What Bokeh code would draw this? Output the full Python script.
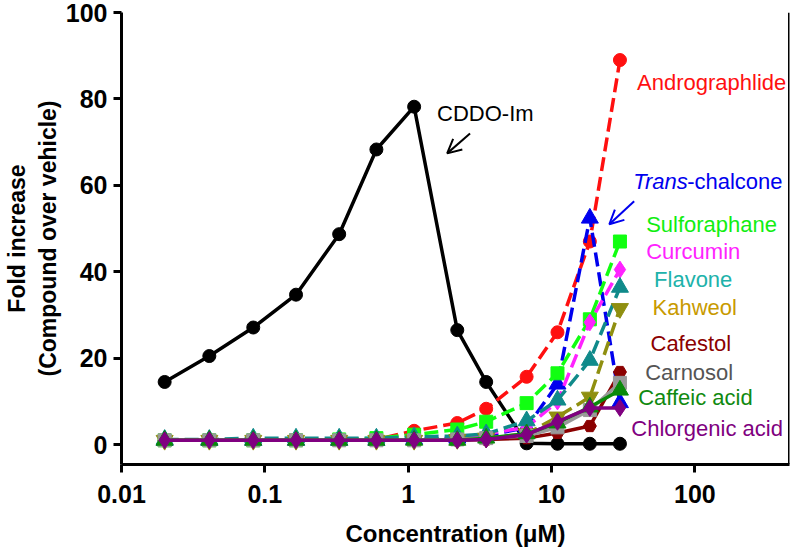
from bokeh.plotting import figure
from bokeh.models import FixedTicker, Label, Arrow, OpenHead, Span, Range1d
from bokeh.embed import file_html
from bokeh.resources import INLINE

# ---- data ----
conc = [0.02, 0.041, 0.083, 0.165, 0.33, 0.6, 1.1, 2.2, 3.5, 6.7, 11, 18.5, 30]
cddo_im = [14.5, 20.5, 27.1, 34.7, 48.7, 68.3, 78.2, 26.5, 14.5, 0.3, 0.2, 0.2, 0.2]
andrographolide = [1.0, 1.0, 1.0, 1.0, 1.0, 1.2, 3.2, 5.0, 8.3, 15.7, 26.0, 47.0, 89.0]
trans_chalcone = [1.0, 1.0, 1.0, 1.0, 1.0, 1.0, 1.2, 1.5, 2.0, 4.0, 14.0, 52.4, 9.7]
sulforaphane = [1.0, 1.0, 1.0, 1.0, 1.2, 1.5, 2.3, 3.5, 5.3, 9.6, 16.5, 29.0, 47.0]
curcumin = [1.0, 1.0, 1.0, 1.0, 1.0, 1.0, 1.2, 1.5, 2.5, 4.0, 10.0, 28.3, 40.5]
flavone = [1.2, 1.2, 1.5, 1.5, 1.5, 1.5, 1.8, 2.0, 2.5, 5.5, 10.3, 19.5, 36.4]
kahweol = [1.0, 1.0, 1.0, 1.0, 1.0, 1.0, 1.0, 1.2, 1.5, 2.5, 6.4, 11.0, 31.5]
cafestol = [1.0, 1.0, 1.0, 1.0, 1.0, 1.0, 1.0, 1.0, 1.2, 1.5, 2.7, 4.3, 16.8]
carnosol = [1.0, 1.0, 1.0, 1.0, 1.0, 1.0, 1.0, 1.2, 1.5, 2.0, 4.0, 8.0, 14.3]
caffeic_acid = [1.0, 1.0, 1.0, 1.0, 1.0, 1.0, 1.0, 1.0, 1.5, 2.5, 5.0, 8.7, 12.6]
chlorgenic_acid = [1.0, 1.0, 1.0, 1.0, 1.0, 1.0, 1.0, 1.0, 1.2, 2.3, 5.3, 8.5, 8.5]

x_ticks = [0.01, 0.1, 1, 10, 100]
x_tick_labels = ["0.01", "0.1", "1", "10", "100"]
y_ticks = [0, 20, 40, 60, 80, 100]

FONT = "Liberation Sans"
X_END = 457

p = figure(width=792, height=549, x_axis_type="log",
           x_range=Range1d(0.01, X_END), y_range=Range1d(-4.6, 100),
           output_backend="svg", toolbar_location=None,
           min_border_left=118, min_border_right=3, min_border_top=12,
           min_border_bottom=84)
p.grid.visible = False
p.outline_line_color = None
p.background_fill_color = "white"
p.border_fill_color = "white"

for ax in (p.xaxis[0], p.yaxis[0]):
    ax.axis_line_width = 3
    ax.axis_line_color = "black"
    ax.major_tick_line_width = 3
    ax.major_tick_out = 8
    ax.major_tick_in = 0
    ax.minor_tick_line_color = None
    ax.major_label_text_font = FONT
    ax.major_label_text_font_style = "bold"
    ax.major_label_text_font_size = "25px"
    ax.major_label_text_color = "black"
    ax.axis_label_text_font = FONT
    ax.axis_label_text_font_style = "bold"
    ax.axis_label_text_color = "black"

p.xaxis.ticker = FixedTicker(ticks=x_ticks)
p.xaxis.major_label_overrides = {t: l for t, l in zip(x_ticks, x_tick_labels)}
p.xaxis.axis_label = "Concentration (\u03bcM)"
p.xaxis.axis_label_text_font_size = "24px"
p.xaxis.axis_label_standoff = 14
p.xaxis.major_label_standoff = 12
p.yaxis.ticker = FixedTicker(ticks=y_ticks)
p.yaxis.axis_label = "Fold increase\n(Compound over vehicle)"
p.yaxis.axis_label_text_font_size = "23px"
p.yaxis.axis_label_standoff = 2
p.yaxis.major_label_standoff = 6

p.add_layout(Span(location=X_END, dimension="height", line_color="black", line_width=3))

series = [
    ("CDDO-Im", cddo_im, "black", "solid", "circle"),
    ("Andrographlide", andrographolide, "#FF1010", "dashed", "circle"),
    ("Trans-chalcone", trans_chalcone, "#0000EE", "dashed", "triangle"),
    ("Sulforaphane", sulforaphane, "#11FF11", "dashed", "square"),
    ("Curcumin", curcumin, "#FF22FF", "dashed", "diamond"),
    ("Flavone", flavone, "#108A8A", "dashed", "triangle"),
    ("Kahweol", kahweol, "#8F8F10", "dashed", "inverted_triangle"),
    ("Cafestol", cafestol, "#8B0000", "solid", "hex"),
    ("Carnosol", carnosol, "#999999", "solid", "square"),
    ("Caffeic acid", caffeic_acid, "#0A8A0A", "solid", "triangle"),
    ("Chlorgenic acid", chlorgenic_acid, "#800080", "solid", "diamond"),
]
for name, ys, col, dash, marker in series:
    p.line(conc, ys, line_color=col, line_width=3.5,
           line_dash="14 6" if dash == "dashed" else "solid")
    sz = 17 if marker in ("diamond", "triangle", "inverted_triangle") else 13
    p.scatter(conc, ys, marker=marker, size=sz, fill_color=col, line_color=col)

labels = [
    ("Andrographlide", 39.5, 83.9, "#FF1010"),
    ("CDDO-Im", 1.59, 76.6, "black"),
    ("Sulforaphane", 45.7, 51.0, "#11EE11"),
    ("Curcumin", 45.7, 44.6, "#FF22FF"),
    ("Flavone", 51.9, 38.2, "#20B2AA"),
    ("Kahweol", 50.6, 31.7, "#C89A00"),
    ("Cafestol", 49.0, 23.4, "#8B0000"),
    ("Carnosol", 45.0, 16.8, "#555555"),
    ("Caffeic acid", 40.2, 10.8, "#108A10"),
    ("Chlorgenic acid", 36.0, 3.7, "#800080"),
]
for txt, lx, ly, col in labels:
    p.add_layout(Label(x=lx, y=ly, text=txt, text_color=col, text_font=FONT,
                       text_font_size="22px", text_baseline="middle", text_align="left"))

p.add_layout(Label(x=37.1, y=60.9, text="Trans", text_color="#0000EE", text_font=FONT,
                   text_font_size="22px", text_font_style="italic",
                   text_baseline="middle", text_align="left"))
p.add_layout(Label(x=37.1, y=60.9, x_offset=54, text="-chalcone", text_color="#0000EE",
                   text_font=FONT, text_font_size="22px",
                   text_baseline="middle", text_align="left"))

p.add_layout(Arrow(x_start=2.7, y_start=72.0, x_end=1.87, y_end=67.4, line_width=2,
                   line_color="black",
                   end=OpenHead(size=14, line_width=2, line_color="black")))
p.add_layout(Arrow(x_start=37.7, y_start=56.3, x_end=25.3, y_end=51.0, line_width=2,
                   line_color="#0000EE",
                   end=OpenHead(size=14, line_width=2, line_color="#0000EE")))

open("out.html", "w").write(file_html(p, INLINE))
